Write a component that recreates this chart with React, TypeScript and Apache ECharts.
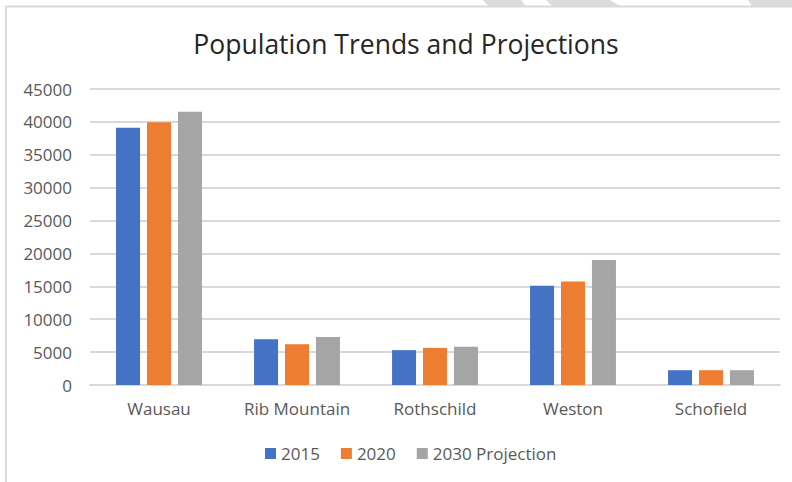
import React, { useEffect, useRef } from "react";
import * as echarts from "echarts";

const categories = ["Wausau", "Rib Mountain", "Rothschild", "Weston", "Schofield"];
const seriesNames = ["2015", "2020", "2030 Projection"];
const values2015 = [39100, 6950, 5300, 15100, 2250];
const values2020 = [39950, 6200, 5650, 15750, 2250];
const values2030 = [41550, 7300, 5800, 19000, 2250];
const colors = ["#4472C4", "#ED7D31", "#A5A5A5"];
const title = "Population Trends and Projections";

export default function App() {
  const ref = useRef<HTMLDivElement>(null);
  useEffect(() => {
    document.body.style.margin = "0";
    const chart = echarts.init(ref.current!, null, { renderer: "svg" });
    const font = "'Open Sans', 'Noto Sans', sans-serif";
    const mk = (name: string, data: number[], color: string) => ({
      name,
      type: "bar",
      data,
      barWidth: 24,
      barGap: "29%",
      itemStyle: { color },
      emphasis: { disabled: true },
    });
    chart.setOption({
      animation: false,
      backgroundColor: "#ffffff",
      textStyle: { fontFamily: font },
      grid: { left: 90, right: 12, top: 89, bottom: 97, containLabel: false },
      legend: {
        data: seriesNames,
        bottom: 15,
        left: 260,
        itemWidth: 11,
        itemHeight: 11,
        itemGap: 21,
        icon: "rect",
        textStyle: { fontSize: 17, color: "#595959", fontFamily: font },
      },
      xAxis: {
        type: "category",
        data: categories,
        axisLine: { lineStyle: { color: "#d9d9d9", width: 2 } },
        axisTick: { show: false },
        axisLabel: { fontSize: 17, color: "#595959", margin: 15, fontFamily: font, interval: 0 },
      },
      yAxis: {
        type: "value",
        min: 0,
        max: 45000,
        interval: 5000,
        axisLine: { show: false },
        axisTick: { show: false },
        splitLine: { lineStyle: { color: "#d9d9d9", width: 2 } },
        axisLabel: {
          fontSize: 17,
          color: "#595959",
          margin: 18,
          fontFamily: font,
          formatter: (v: number) => String(v),
        },
      },
      series: [
        mk(seriesNames[0], values2015, colors[0]),
        mk(seriesNames[1], values2020, colors[1]),
        mk(seriesNames[2], values2030, colors[2]),
      ],
      graphic: [
        {
          type: "text",
          x: 406,
          y: 44,
          style: {
            text: title,
            align: "center",
            verticalAlign: "middle",
            fontSize: 26.5,
            fontFamily: font,
            fill: "#262626",
          },
        },
        { type: "line", shape: { x1: 6, y1: 6.5, x2: 792, y2: 6.5 }, style: { stroke: "#d9d9d9", lineWidth: 2 } },
        { type: "line", shape: { x1: 6, y1: 6, x2: 6, y2: 482 }, style: { stroke: "#d9d9d9", lineWidth: 2 } },
        { type: "polygon", shape: { points: [[483, 0], [521, 0], [526, 6], [488, 6]] }, style: { fill: "#dcdcdc" } },
        { type: "polygon", shape: { points: [[546, 0], [610, 0], [620, 6], [552, 6]] }, style: { fill: "#dcdcdc" } },
        { type: "polygon", shape: { points: [[748, 0], [792, 0], [792, 6], [752, 6]] }, style: { fill: "#dcdcdc" } },
      ],
    });
    return () => chart.dispose();
  }, []);
  return <div ref={ref} style={{ position: "absolute", left: 0, top: 0, width: 792, height: 482 }} />;
}
